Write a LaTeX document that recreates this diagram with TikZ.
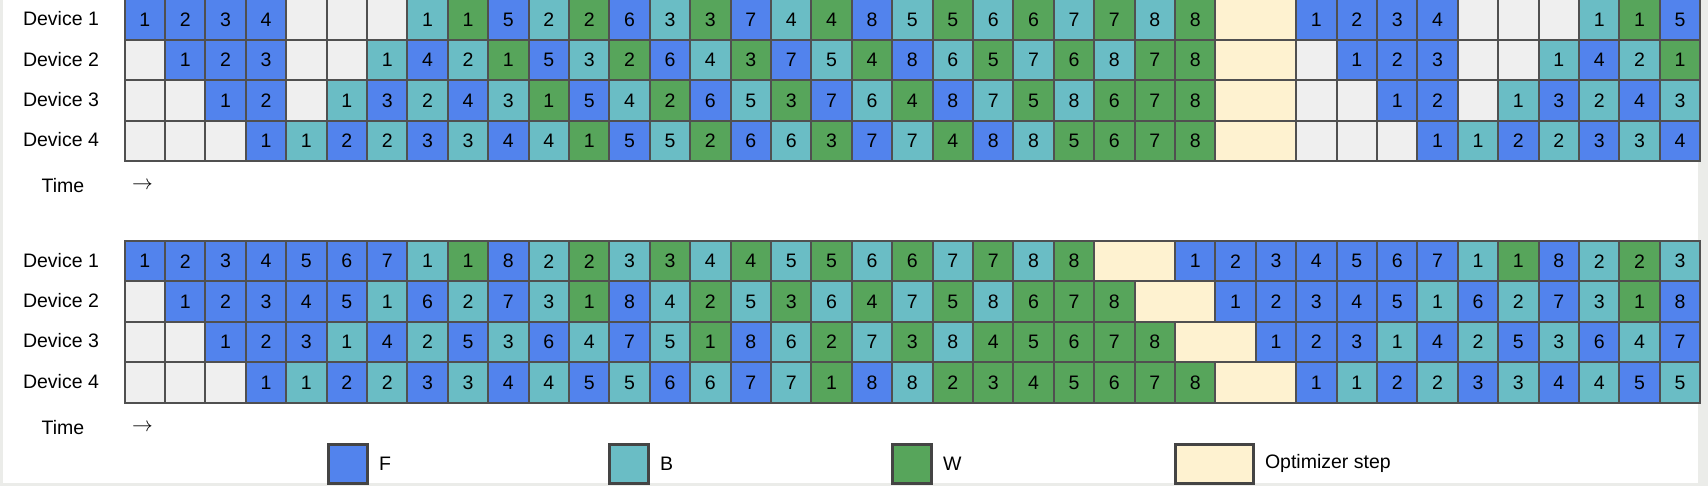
\documentclass[tikz,border=0pt]{standalone}
\usepackage{fontspec}
\setmainfont{Liberation Sans}
\usetikzlibrary{positioning}

\definecolor{fwdblue}{RGB}{82,131,237}
\definecolor{bwdteal}{RGB}{106,189,197}
\definecolor{wgtgreen}{RGB}{87,165,91}
\definecolor{optcream}{RGB}{254,242,208}
\definecolor{idlegray}{RGB}{239,239,239}
\definecolor{gridline}{RGB}{80,80,80}
\definecolor{pagegray}{RGB}{235,236,233}

% one row of the schedule: name prefix, top edge, list of kind/number
\newcommand{\schedrow}[3]{%
  \foreach \k/\n [count=\i from 0] in {#3}
    \node[cell, cell \k] (#1-\i) at ({123.6+\i*40.4}, #2) {\n};
}

\begin{document}
\begin{tikzpicture}[
    x=1pt, y=-1pt,
    every node/.style={font=\fontsize{19.5}{23}\selectfont},
    cell/.style={rectangle, draw=gridline, line width=2pt, minimum width=40.4pt,
      minimum height=40.4pt, inner sep=0pt, anchor=north west},
    cell F/.style={fill=fwdblue},
    cell B/.style={fill=bwdteal},
    cell W/.style={fill=wgtgreen},
    cell E/.style={fill=idlegray},
    cell O/.style={fill=optcream, minimum width=80.8pt},
    cell X/.style={draw=none},
    legbox/.style={rectangle, draw=gridline!85!black, line width=2.5pt, minimum width=39pt,
      minimum height=39pt, inner sep=0pt, anchor=north west}
]
\useasboundingbox (0,0) rectangle (1708,486);
\fill[pagegray] (0,0) rectangle (1708,486);
\fill[white] (3,0) rectangle (1698,483);

% upper schedule
\schedrow{ta}{-1.5}{F/1,F/2,F/3,F/4,E/{},E/{},E/{},B/1,W/1,F/5,B/2,W/2,F/6,B/3,W/3,F/7,B/4,W/4,F/8,B/5,W/5,B/6,W/6,B/7,W/7,B/8,W/8,O/{},X/{},F/1,F/2,F/3,F/4,E/{},E/{},E/{},B/1,W/1,F/5}
\schedrow{tb}{38.9}{E/{},F/1,F/2,F/3,E/{},E/{},B/1,F/4,B/2,W/1,F/5,B/3,W/2,F/6,B/4,W/3,F/7,B/5,W/4,F/8,B/6,W/5,B/7,W/6,B/8,W/7,W/8,O/{},X/{},E/{},F/1,F/2,F/3,E/{},E/{},B/1,F/4,B/2,W/1}
\schedrow{tc}{79.3}{E/{},E/{},F/1,F/2,E/{},B/1,F/3,B/2,F/4,B/3,W/1,F/5,B/4,W/2,F/6,B/5,W/3,F/7,B/6,W/4,F/8,B/7,W/5,B/8,W/6,W/7,W/8,O/{},X/{},E/{},E/{},F/1,F/2,E/{},B/1,F/3,B/2,F/4,B/3}
\schedrow{td}{119.7}{E/{},E/{},E/{},F/1,B/1,F/2,B/2,F/3,B/3,F/4,B/4,W/1,F/5,B/5,W/2,F/6,B/6,W/3,F/7,B/7,W/4,F/8,B/8,W/5,W/6,W/7,W/8,O/{},X/{},E/{},E/{},E/{},F/1,B/1,F/2,B/2,F/3,B/3,F/4}

% lower schedule
\schedrow{ba}{240}{F/1,F/2,F/3,F/4,F/5,F/6,F/7,B/1,W/1,F/8,B/2,W/2,B/3,W/3,B/4,W/4,B/5,W/5,B/6,W/6,B/7,W/7,B/8,W/8,O/{},X/{},F/1,F/2,F/3,F/4,F/5,F/6,F/7,B/1,W/1,F/8,B/2,W/2,B/3}
\schedrow{bb}{280.4}{E/{},F/1,F/2,F/3,F/4,F/5,B/1,F/6,B/2,F/7,B/3,W/1,F/8,B/4,W/2,B/5,W/3,B/6,W/4,B/7,W/5,B/8,W/6,W/7,W/8,O/{},X/{},F/1,F/2,F/3,F/4,F/5,B/1,F/6,B/2,F/7,B/3,W/1,F/8}
\schedrow{bc}{320.8}{E/{},E/{},F/1,F/2,F/3,B/1,F/4,B/2,F/5,B/3,F/6,B/4,F/7,B/5,W/1,F/8,B/6,W/2,B/7,W/3,B/8,W/4,W/5,W/6,W/7,W/8,O/{},X/{},F/1,F/2,F/3,B/1,F/4,B/2,F/5,B/3,F/6,B/4,F/7}
\schedrow{bd}{361.2}{E/{},E/{},E/{},F/1,B/1,F/2,B/2,F/3,B/3,F/4,B/4,F/5,B/5,F/6,B/6,F/7,B/7,W/1,F/8,B/8,W/2,W/3,W/4,W/5,W/6,W/7,W/8,O/{},X/{},F/1,B/1,F/2,B/2,F/3,B/3,F/4,B/4,F/5,B/5}

% row labels
\foreach \d in {1,...,4} {
  \node (devt\d) at (61, {18.7+(\d-1)*40.4}) {Device \d};
  \node (devb\d) at (61, {260.2+(\d-1)*40.4}) {Device \d};
}
\node (timet) at (63,186) {Time};
\node (arrt) at (142.5,186) {$\rightarrow$};
\node (timeb) at (63,428) {Time};
\node (arrb) at (142.5,428) {$\rightarrow$};

% legend
\node (legF) [legbox, fill=fwdblue] at (327,443) {};
\node [right=7pt of legF] {F};
\node (legB) [legbox, fill=bwdteal] at (608,443) {};
\node [right=7pt of legB] {B};
\node (legW) [legbox, fill=wgtgreen] at (891,443) {};
\node [right=7pt of legW] {W};
\node (legO) [legbox, fill=optcream, minimum width=78pt] at (1174,443) {};
\node [right=7pt of legO] {Optimizer step};
\end{tikzpicture}
\end{document}
